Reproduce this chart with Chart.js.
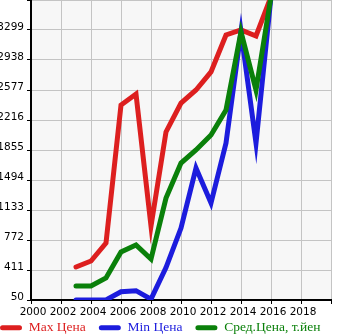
<!DOCTYPE html>
<html>
<head>
<meta charset="utf-8">
<script src="https://cdn.jsdelivr.net/npm/chart.js@4"></script>
<style>
  html, body { margin: 0; padding: 0; background: #fff; }
  #wrap { width: 345px; height: 335px; }
</style>
</head>
<body>
<div id="wrap"><canvas id="priceChart"></canvas></div>
<script>
// values
const years = [2003, 2004, 2005, 2006, 2007, 2008, 2009, 2010, 2011, 2012, 2013, 2014, 2015, 2016];
const maxPrice = [447, 519, 736, 2396, 2529, 940, 2072, 2420, 2577, 2794, 3239, 3299, 3227, 3700];
const minPrice = [50, 50, 50, 150, 162, 60, 440, 916, 1638, 1217, 1939, 3280, 1939, 3700];
const avgPrice = [218, 218, 315, 628, 712, 543, 1277, 1698, 1855, 2035, 2336, 3275, 2577, 3700];
const yTicks = [50, 411, 772, 1133, 1494, 1855, 2216, 2577, 2938, 3299, 3660];
const xTicks = [2000, 2002, 2004, 2006, 2008, 2010, 2012, 2014, 2016, 2018, 2020];

const toPoints = (vals) => vals.map((v, i) => ({ x: years[i], y: v }));

// grey plot background
const plotBg = {
  id: "plotBg",
  beforeDraw(chart) {
    const { ctx, chartArea: a } = chart;
    ctx.save();
    ctx.fillStyle = "#f7f7f7";
    ctx.fillRect(a.left, a.top, a.right - a.left, a.bottom - a.top);
    ctx.restore();
  },
};

// pull the legend row up a little, closer to the axis labels
const legendShift = {
  id: "legendShift",
  afterLayout(chart) {
    chart.legend.top -= 8;
  },
};

const tickFont = { family: "DejaVu Sans", size: 10.5 };

new Chart(document.getElementById("priceChart"), {
  type: "line",
  data: {
    datasets: [
      { label: "Max Цена", data: toPoints(maxPrice), borderColor: "#dd1f1f", order: 2 },
      { label: "Min Цена", data: toPoints(minPrice), borderColor: "#1c1cdd", order: 1 },
      { label: "Сред.Цена, т.йен", data: toPoints(avgPrice), borderColor: "#0a800a", order: 0 },
    ],
  },
  options: {
    responsive: true,
    maintainAspectRatio: false,
    animation: false,
    layout: { padding: { left: -13, right: 0, top: 0, bottom: 0 } },
    elements: {
      line: { borderWidth: 5, tension: 0, borderCapStyle: "round", fill: false },
      point: { radius: 0, hoverRadius: 0 },
    },
    scales: {
      x: {
        type: "linear",
        min: 2000,
        max: 2020,
        afterBuildTicks: (s) => { s.ticks = xTicks.map((v) => ({ value: v })); },
        afterFit: (s) => { s.height = 16; s.paddingRight = 14; },
        ticks: {
          color: "#000",
          font: tickFont,
          padding: 2,
          labelOffset: 2,
          maxRotation: 0,
          callback: (v) => (v === 2020 ? "" : String(v)),
        },
        grid: { color: "#c4c4c4", lineWidth: 1, tickLength: 4, tickColor: "#000" },
        border: { color: "#000", width: 2 },
      },
      y: {
        min: 50,
        max: 3660,
        afterBuildTicks: (s) => { s.ticks = yTicks.map((v) => ({ value: v })); },
        afterFit: (s) => { s.width = 44; s.paddingTop = 0; s.paddingBottom = 0; },
        ticks: {
          color: "#000",
          font: tickFont,
          padding: 3,
          labelOffset: -3,
          callback: (v) => (v === 3660 ? "" : String(v)),
        },
        grid: { color: "#c4c4c4", lineWidth: 1, tickLength: 4, tickColor: "#000" },
        border: { color: "#000", width: 2 },
      },
    },
    plugins: {
      tooltip: { enabled: false },
      legend: {
        position: "bottom",
        align: "start",
        maxHeight: 19,
        labels: {
          boxWidth: 22,
          boxHeight: 5,
          padding: 13,
          useBorderRadius: true,
          borderRadius: 2.5,
          font: { family: "Liberation Serif", size: 13.5 },
          generateLabels: (chart) =>
            chart.data.datasets.map((ds, i) => ({
              text: ds.label,
              fillStyle: ds.borderColor,
              strokeStyle: ds.borderColor,
              lineWidth: 0,
              fontColor: ds.borderColor,
              borderRadius: 2.5,
              hidden: false,
              datasetIndex: i,
            })),
        },
      },
    },
  },
  plugins: [plotBg, legendShift],
});
</script>
</body>
</html>
